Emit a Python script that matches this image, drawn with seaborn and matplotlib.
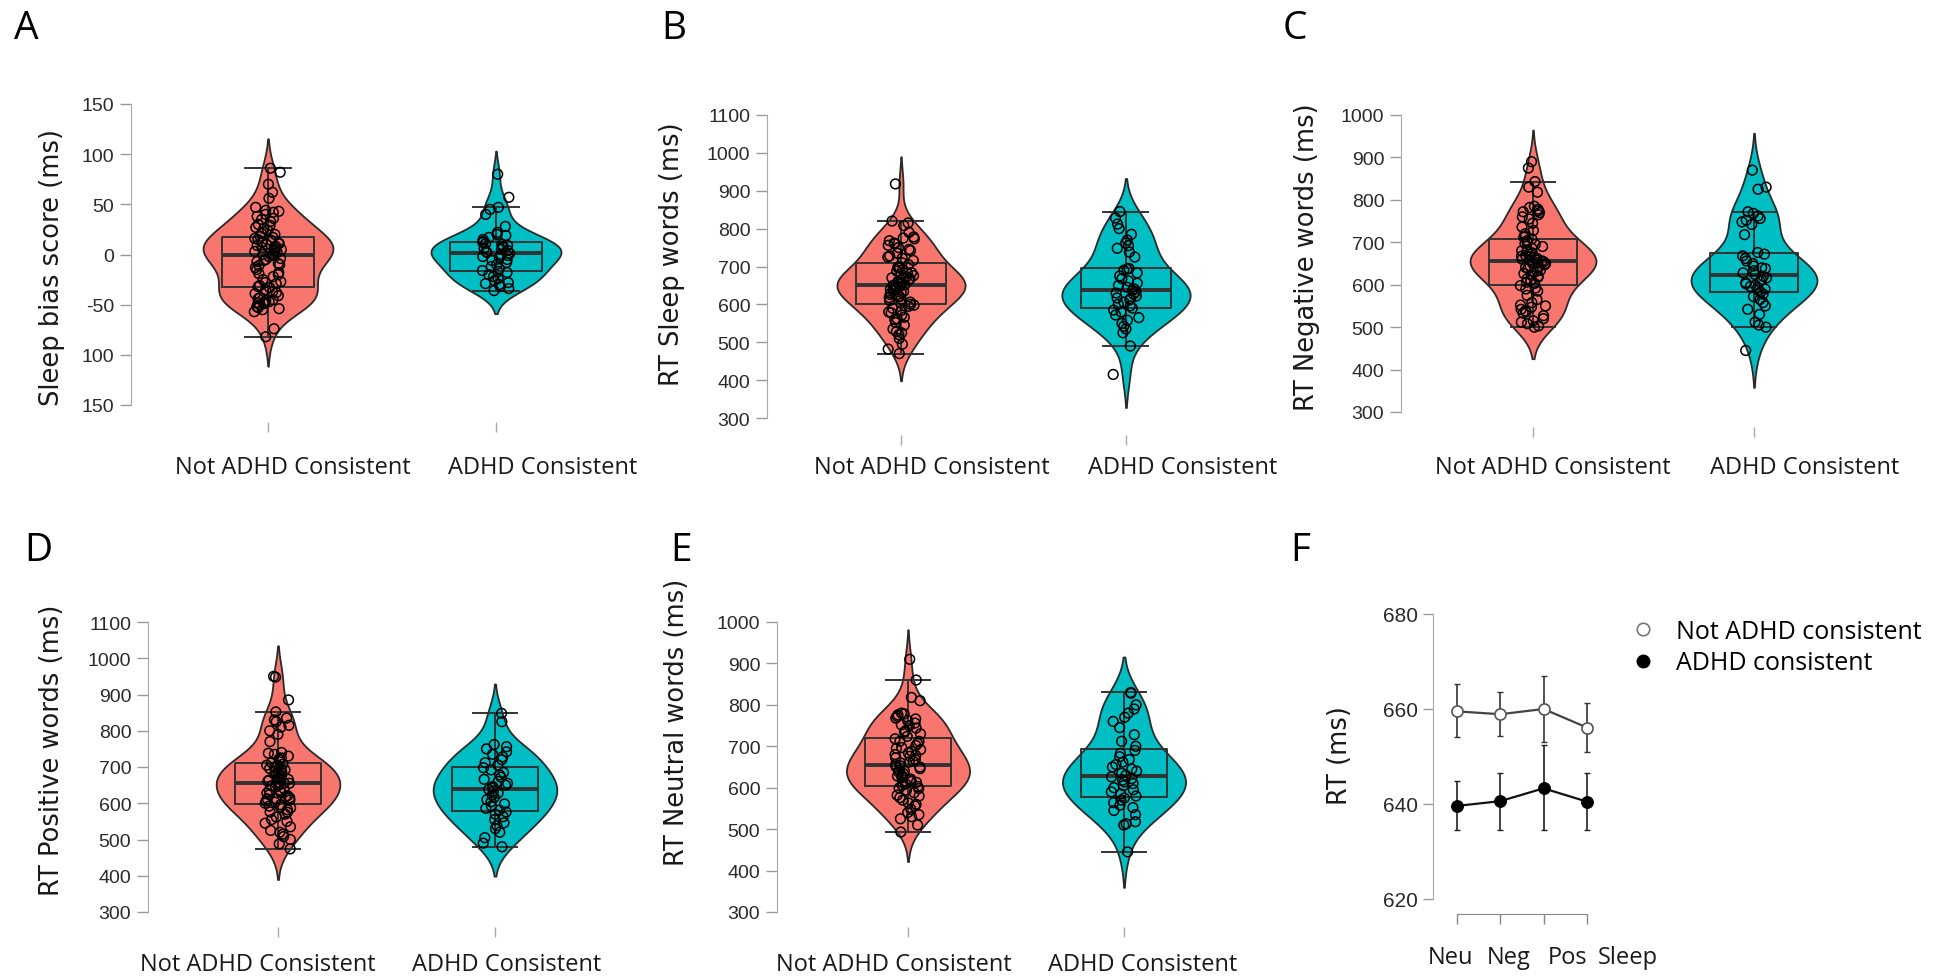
import numpy as np
import pandas as pd
import matplotlib
matplotlib.use('Agg')
import matplotlib.pyplot as plt
from matplotlib import transforms
from matplotlib.lines import Line2D
from matplotlib.collections import PathCollection
import seaborn as sns

W, H = 1955, 978

groups = ['Not ADHD Consistent', 'ADHD Consistent']
colors = ['#F8766D', '#00BFC4']

# A: sleep bias score (ms)
bias_not = [-82, -74, -57, -55, -53, -52, -50, -49, -48, -47, -46, -45, -43, -41, -39, -37, -35, -33, -32, -31,
            -29, -27, -25, -22, -20, -18, -15, -13, -11, -9, -7, -5, -4, -2, -1,
            0, 1, 2, 3, 4, 5, 6, 7, 8, 9, 10, 11, 12, 13, 15, 16, 17, 18,
            21, 24, 27, 29, 30, 33, 36, 38, 40, 42, 44, 47, 56, 62, 70, 82, 86,
            -54, -48, -44, -38, -28, -19, -10, -6, 3, 7, 11, 14, 20, 26, 35, 43]
bias_adhd = [-36, -34, -32, -30, -29, -28, -26, -24, -22, -20, -18, -17, -16, -14, -12, -10, -8, -6, -5, -3,
             -2, -1, 0, 1, 2, 3, 4, 5, 6, 7, 8, 9, 10, 11, 12, 13, 15, 17, 19, 20, 22, 28, 40, 45, 47, 57, 80]

# B: RT sleep words
sleep_not = [470, 482, 495, 510, 520, 528, 535, 545, 552, 560, 566, 572, 578, 584, 590, 595, 600, 603, 606, 610,
             614, 618, 622, 626, 630, 634, 637, 640, 643, 646, 648, 650, 652, 655, 658, 661, 664, 667, 670, 673,
             676, 680, 684, 688, 692, 696, 700, 705, 710, 716, 722, 728, 735, 742, 750, 756, 762, 768, 773, 778,
             790, 808, 815, 820, 918,
             525, 562, 580, 598, 620, 632, 641, 647, 657, 668, 683, 698, 725, 745, 760, 775]
sleep_adhd = [415, 490, 525, 535, 542, 550, 558, 565, 572, 580, 585, 590, 596, 600, 606, 612, 615, 617, 622, 627,
              630, 633, 637, 641, 645, 650, 656, 662, 668, 675, 683, 690, 693, 695, 725, 738, 748, 755, 762, 770,
              785, 800, 812, 828, 845]

# C: RT negative words
neg_not = [500, 503, 508, 515, 520, 527, 533, 538, 542, 547, 552, 558, 565, 575, 585, 592, 598, 603,
           606, 610, 614, 618, 622, 626, 630, 634, 638, 641, 644, 647, 650, 652, 654, 656, 658, 660, 662, 664,
           666, 669, 672, 675, 678, 682, 686, 690, 695, 700, 704, 708, 714, 720, 728, 736, 745, 755, 765, 770,
           774, 778, 782, 818, 830, 843, 875, 890,
           512, 536, 550, 590, 620, 632, 643, 651, 659, 667, 680, 697, 712, 760, 772, 785]
neg_adhd = [445, 500, 505, 512, 530, 542, 550, 558, 565, 572, 578, 583, 587, 590, 593, 596, 599, 602, 605, 608,
            612, 616, 620, 624, 628, 633, 638, 640, 644, 650, 656, 662, 668, 672, 676, 718, 742, 748, 752, 756,
            762, 768, 772, 825, 830, 870]

# D: RT positive words
pos_not = [474, 488, 500, 508, 515, 525, 535, 545, 555, 562, 570, 576, 582, 587, 592, 596, 600, 603, 606, 609,
           612, 615, 618, 621, 624, 628, 632, 636, 640, 645, 650, 655, 658, 661, 664, 668, 672, 676, 680, 684,
           688, 690, 692, 696, 700, 704, 708, 712, 720, 725, 730, 735, 740, 770, 790, 800, 815, 825, 835, 852,
           885, 948, 950,
           520, 550, 575, 590, 612, 630, 648, 656, 666, 682, 694, 705, 722, 738, 810, 830]
pos_adhd = [480, 490, 505, 520, 530, 538, 546, 555, 563, 570, 576, 581, 586, 592, 598, 604, 610, 616, 622, 628,
            634, 638, 642, 646, 650, 655, 660, 666, 672, 678, 685, 692, 698, 705, 712, 720, 728, 735, 742, 750,
            756, 762, 825, 848]

# E: RT neutral words
neu_not = [493, 510, 525, 535, 540, 548, 556, 563, 570, 576, 582, 588, 594, 599, 603, 606, 609, 612, 615, 618,
           621, 624, 627, 630, 634, 638, 642, 646, 650, 653, 656, 660, 664, 668, 672, 676, 680, 684, 688, 692,
           697, 702, 707, 712, 718, 724, 730, 737, 744, 750, 756, 762, 768, 772, 776, 780, 810, 818, 860, 910,
           530, 560, 580, 598, 613, 628, 640, 651, 662, 678, 695, 712, 735, 752, 766, 778]
neu_adhd = [445, 510, 513, 518, 535, 545, 552, 558, 564, 570, 575, 580, 585, 590, 595, 600, 605, 610, 614, 618,
            622, 626, 630, 635, 640, 645, 650, 656, 662, 668, 675, 683, 690, 700, 712, 728, 745, 760, 770, 780,
            790, 800, 828, 830]

# F: mean RT per word type with error bars
conds = ['Neu', 'Neg', 'Pos', 'Sleep']
f_not_mean = [659.5, 658.9, 660.0, 656.1]
f_not_lo = [654.0, 654.3, 653.1, 651.0]
f_not_hi = [665.3, 663.6, 666.9, 661.3]
f_adhd_mean = [639.6, 640.6, 643.3, 640.5]
f_adhd_lo = [634.6, 634.6, 634.6, 634.6]
f_adhd_hi = [644.9, 646.5, 652.4, 646.5]

plt.rcParams['font.family'] = ['Liberation Sans', 'DejaVu Sans']
fig = plt.figure(figsize=(W / 100, H / 100), dpi=100)


def axes_px(left, right, top, bottom):
    return fig.add_axes([left / W, 1 - bottom / H, (right - left) / W, (bottom - top) / H])


def lim_from(cal, lo_px, hi_px):
    # cal = ((value1, px1), (value2, px2)); returns limits for pixel range lo_px..hi_px
    (v1, p1), (v2, p2) = cal
    k = (p2 - p1) / (v2 - v1)
    return v1 + (lo_px - p1) / k, v1 + (hi_px - p1) / k


def violin_panel(box, ycal, yticks, ylabels, not_vals, adhd_vals, lab_y, lab_dx, seed):
    left, right, top, bottom, c1, c2 = box
    ax = axes_px(left, right, top, bottom)
    df = pd.DataFrame({'group': [groups[0]] * len(not_vals) + [groups[1]] * len(adhd_vals),
                       'value': list(not_vals) + list(adhd_vals)})
    sns.violinplot(data=df, x='group', y='value', hue='group', order=groups, hue_order=groups,
                   palette=colors, saturation=1, inner=None, density_norm='width', width=0.57,
                   cut=2, linewidth=1.3, linecolor='#2a2a2a', legend=False, ax=ax)
    sns.boxplot(data=df, x='group', y='value', order=groups, width=0.4, fill=False,
                color='#333333', linewidth=1.4, showfliers=False,
                medianprops={'linewidth': 2.8}, ax=ax)
    np.random.seed(seed)
    sns.stripplot(data=df, x='group', y='value', order=groups, jitter=0.06, size=7,
                  color='black', linewidth=1.1, ax=ax)
    for c in ax.collections:
        if isinstance(c, PathCollection):
            c.set_facecolor('none')
            c.set_edgecolor('black')
            c.set_zorder(4)

    ax.set_xlim(lim_from(((0, c1), (1, c2)), left, right))
    ax.set_ylim(lim_from(ycal, bottom, top))
    for s in ['top', 'right', 'bottom']:
        ax.spines[s].set_visible(False)
    ax.spines['left'].set_color('#a8a8a8')
    ax.spines['left'].set_bounds(min(yticks), max(yticks))
    ax.set_yticks(yticks)
    ax.set_yticklabels(ylabels)
    ax.tick_params(axis='y', length=8, width=1, color='#999999', labelsize=14,
                   labelcolor='#2a2a2a', pad=4)
    ax.set_xticks([0, 1])
    ax.set_xticklabels(['', ''])
    ax.tick_params(axis='x', length=7, width=1, color='#aaaaaa')
    ax.set_xlabel('')
    ax.set_ylabel('')
    ax.patch.set_alpha(0)
    base = transforms.blended_transform_factory(ax.transData, fig.transFigure)
    for i, dx in enumerate(lab_dx):
        tr = transforms.offset_copy(base, fig=fig, x=dx, y=0, units='dots')
        ax.text(i, 1 - lab_y / H, groups[i], transform=tr, ha='center', va='center',
                fontsize=17, family='Open Sans', color='#1a1a1a')
    return ax


rt_ticks = [300, 400, 500, 600, 700, 800, 900, 1000, 1100]
rt_ticks10 = [300, 400, 500, 600, 700, 800, 900, 1000]

violin_panel((131, 640, 90, 423, 268, 496), ((150, 105), (-150, 406)),
             [150, 100, 50, 0, -50, -100, -150], ['150', '100', '50', '0', '-50', '100', '150'],
             bias_not, bias_adhd, 468, (25, 47), 1)
violin_panel((767, 1265, 95, 436, 901, 1126), ((1100, 116), (300, 419)),
             rt_ticks, [str(t) for t in rt_ticks], sleep_not, sleep_adhd, 468, (31, 57), 2)
violin_panel((1401, 1900, 95, 428, 1533, 1754), ((1000, 116), (300, 413)),
             rt_ticks10, [str(t) for t in rt_ticks10], neg_not, neg_adhd, 468, (20, 51), 3)
violin_panel((148, 640, 600, 928, 278, 495), ((1100, 623), (300, 913)),
             rt_ticks, [str(t) for t in rt_ticks], pos_not, pos_adhd, 965, (-20, 12), 4)
violin_panel((777, 1260, 600, 928, 908, 1124), ((1000, 623), (300, 913)),
             rt_ticks10, [str(t) for t in rt_ticks10], neu_not, neu_adhd, 965, (-14, 19), 5)

# F: line plot with error bars
axf = axes_px(1433, 1615, 600, 915)
xpos = np.arange(len(conds))
fdf = pd.DataFrame({'x': np.concatenate([xpos, xpos]),
                    'rt': f_not_mean + f_adhd_mean,
                    'group': ['Not ADHD consistent'] * 4 + ['ADHD consistent'] * 4})
axf.errorbar(xpos, f_not_mean, yerr=[np.subtract(f_not_mean, f_not_lo), np.subtract(f_not_hi, f_not_mean)],
             fmt='none', ecolor='#333333', elinewidth=1.2, capsize=2.5, zorder=1)
axf.errorbar(xpos, f_adhd_mean, yerr=[np.subtract(f_adhd_mean, f_adhd_lo), np.subtract(f_adhd_hi, f_adhd_mean)],
             fmt='none', ecolor='#222222', elinewidth=1.2, capsize=2.5, zorder=1)
sns.lineplot(data=fdf[fdf.group == 'Not ADHD consistent'], x='x', y='rt', color='#444444',
             linewidth=1.6, marker='o', markersize=8, markerfacecolor='white',
             markeredgecolor='#555555', markeredgewidth=1.2, ax=axf, zorder=3)
sns.lineplot(data=fdf[fdf.group == 'ADHD consistent'], x='x', y='rt', color='#111111',
             linewidth=1.6, marker='o', markersize=8.5, markerfacecolor='black',
             markeredgecolor='black', ax=axf, zorder=3)
axf.set_xlim(lim_from(((0, 1457), (1, 1500.3)), 1433, 1615))
axf.set_ylim(lim_from(((680, 615), (620, 900)), 915, 600))
for s in ['top', 'right']:
    axf.spines[s].set_visible(False)
axf.spines['left'].set_color('#a8a8a8')
axf.spines['left'].set_bounds(620, 680)
axf.spines['bottom'].set_color('#888888')
axf.spines['bottom'].set_bounds(0, 3)
axf.set_yticks([620, 640, 660, 680])
axf.tick_params(axis='y', length=7, width=1, color='#999999', labelsize=15,
                labelcolor='#2a2a2a', pad=4)
axf.set_xticks(xpos)
axf.set_xticklabels([''] * 4)
axf.tick_params(axis='x', length=7, width=1, color='#888888')
axf.set_xlabel('')
axf.set_ylabel('')
axf.patch.set_alpha(0)
basef = transforms.blended_transform_factory(axf.transData, fig.transFigure)
for i, dx in enumerate([-7, 8, 24, 41]):
    tr = transforms.offset_copy(basef, fig=fig, x=dx, y=0, units='dots')
    axf.text(i, 1 - 958 / H, conds[i], transform=tr, ha='center', va='center',
             fontsize=17, family='Open Sans', color='#1a1a1a')

handles = [Line2D([], [], ls='', marker='o', markersize=9, markerfacecolor='white',
                  markeredgecolor='#777777', markeredgewidth=1.2),
           Line2D([], [], ls='', marker='o', markersize=9, markerfacecolor='black',
                  markeredgecolor='black')]
fig.legend(handles, ['Not ADHD consistent', 'ADHD consistent'], loc='upper left',
           bbox_to_anchor=(1630 / W, 1 - 620 / H), bbox_transform=fig.transFigure,
           frameon=False, borderpad=0, borderaxespad=0, handlelength=1.0,
           handletextpad=0.85, labelspacing=0.25,
           prop={'family': 'Open Sans', 'size': 18})

# y axis titles
ylabels = [('Sleep bias score (ms)', 52, 268), ('RT Sleep words (ms)', 672, 254),
           ('RT Negative words (ms)', 1307, 257), ('RT Positive words (ms)', 52, 750),
           ('RT Neutral words (ms)', 677, 722), ('RT (ms)', 1340, 756)]
for txt, x, y in ylabels:
    fig.text(x / W, 1 - y / H, txt, rotation=90, ha='center', va='center',
             fontsize=18.5, family='DejaVu Sans', color='#1a1a1a')

# panel letters
for letter, x, y in [('A', 14, 29), ('B', 661, 29), ('C', 1283, 29),
                     ('D', 24, 551), ('E', 670, 551), ('F', 1290, 551)]:
    fig.text(x / W, 1 - y / H, letter, ha='left', va='center', fontsize=28,
             family='Open Sans', color='black')

fig.savefig('out.png', dpi=100, facecolor='white')
